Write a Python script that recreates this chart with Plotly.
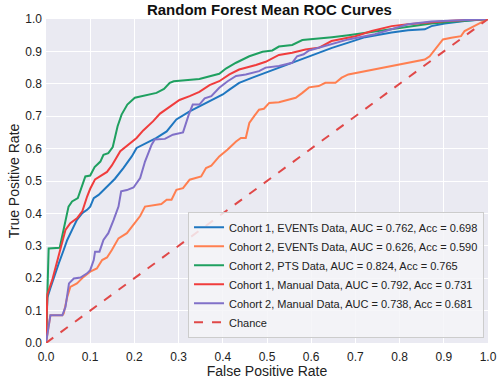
import plotly.graph_objects as go

# ---- data ----
c1_events_fpr = [0, 0.003, 0.01, 0.018, 0.029, 0.04, 0.048, 0.059, 0.07, 0.082, 0.093, 0.1, 0.108, 0.119, 0.134, 0.156, 0.175, 0.194, 0.205, 0.228, 0.25, 0.273, 0.295, 0.325, 0.362, 0.4, 0.415, 0.437, 0.467, 0.497, 0.527, 0.565, 0.61, 0.647, 0.684, 0.722, 0.782, 0.819, 0.857, 0.872, 0.902, 0.947, 1.0]
c1_events_tpr = [0, 0.14, 0.17, 0.204, 0.246, 0.287, 0.318, 0.349, 0.380, 0.401, 0.411, 0.421, 0.447, 0.457, 0.478, 0.507, 0.54, 0.576, 0.602, 0.617, 0.633, 0.653, 0.69, 0.715, 0.741, 0.767, 0.782, 0.803, 0.819, 0.834, 0.851, 0.87, 0.891, 0.911, 0.927, 0.944, 0.958, 0.965, 0.968, 0.978, 0.986, 0.994, 1.0]

c2_events_fpr = [0, 0.01, 0.037, 0.04, 0.048, 0.055, 0.07, 0.085, 0.1, 0.115, 0.127, 0.138, 0.149, 0.164, 0.183, 0.201, 0.213, 0.224, 0.242, 0.261, 0.273, 0.284, 0.295, 0.31, 0.325, 0.351, 0.362, 0.374, 0.392, 0.411, 0.43, 0.441, 0.452, 0.46, 0.471, 0.482, 0.493, 0.505, 0.527, 0.55, 0.565, 0.58, 0.595, 0.617, 0.632, 0.655, 0.669, 0.684, 0.722, 0.752, 0.789, 0.812, 0.831, 0.857, 0.868, 0.883, 0.898, 0.917, 0.939, 0.947, 0.962, 0.977, 0.992, 1.0]
c2_events_tpr = [0, 0.086, 0.086, 0.091, 0.142, 0.173, 0.184, 0.204, 0.220, 0.230, 0.256, 0.264, 0.287, 0.323, 0.339, 0.370, 0.392, 0.421, 0.426, 0.429, 0.442, 0.442, 0.473, 0.478, 0.504, 0.514, 0.54, 0.547, 0.576, 0.597, 0.622, 0.633, 0.633, 0.679, 0.70, 0.720, 0.723, 0.741, 0.743, 0.751, 0.757, 0.772, 0.789, 0.793, 0.803, 0.803, 0.819, 0.829, 0.839, 0.847, 0.858, 0.865, 0.87, 0.875, 0.885, 0.911, 0.937, 0.942, 0.947, 0.963, 0.974, 0.984, 0.994, 1.0]

c2_pts_fpr = [0, 0.003, 0.006, 0.031, 0.051, 0.059, 0.072, 0.089, 0.1, 0.11, 0.123, 0.13, 0.141, 0.151, 0.162, 0.171, 0.184, 0.201, 0.228, 0.25, 0.267, 0.28, 0.289, 0.31, 0.347, 0.392, 0.407, 0.43, 0.46, 0.49, 0.512, 0.527, 0.557, 0.58, 0.617, 0.647, 0.684, 0.759, 0.819, 0.872, 0.924, 1.0]
c2_pts_tpr = [0, 0.13, 0.292, 0.294, 0.421, 0.437, 0.447, 0.514, 0.517, 0.543, 0.56, 0.581, 0.586, 0.605, 0.669, 0.705, 0.736, 0.757, 0.764, 0.772, 0.784, 0.803, 0.808, 0.810, 0.815, 0.831, 0.847, 0.865, 0.885, 0.899, 0.903, 0.915, 0.92, 0.935, 0.939, 0.944, 0.950, 0.965, 0.975, 0.986, 0.992, 1.0]

c1_manual_fpr = [0, 0.003, 0.014, 0.025, 0.034, 0.044, 0.055, 0.07, 0.082, 0.089, 0.093, 0.1, 0.111, 0.138, 0.149, 0.168, 0.186, 0.205, 0.22, 0.242, 0.258, 0.276, 0.302, 0.325, 0.347, 0.37, 0.392, 0.415, 0.437, 0.475, 0.497, 0.527, 0.557, 0.587, 0.617, 0.646, 0.7, 0.737, 0.782, 0.819, 0.872, 0.909, 1.0]
c1_manual_tpr = [0, 0.15, 0.194, 0.251, 0.297, 0.349, 0.370, 0.385, 0.406, 0.437, 0.452, 0.476, 0.505, 0.528, 0.548, 0.592, 0.612, 0.633, 0.656, 0.684, 0.708, 0.726, 0.75, 0.762, 0.775, 0.796, 0.808, 0.829, 0.844, 0.858, 0.868, 0.889, 0.896, 0.906, 0.911, 0.932, 0.947, 0.963, 0.978, 0.984, 0.989, 0.994, 1.0]

c2_manual_fpr = [0, 0.01, 0.037, 0.044, 0.052, 0.063, 0.078, 0.093, 0.1, 0.108, 0.111, 0.121, 0.13, 0.141, 0.153, 0.164, 0.17, 0.183, 0.198, 0.213, 0.224, 0.239, 0.246, 0.269, 0.287, 0.31, 0.323, 0.332, 0.347, 0.359, 0.374, 0.392, 0.411, 0.43, 0.452, 0.482, 0.497, 0.527, 0.557, 0.568, 0.583, 0.595, 0.617, 0.684, 0.744, 0.819, 0.872, 1.0]
c2_manual_tpr = [0, 0.086, 0.086, 0.111, 0.184, 0.199, 0.202, 0.215, 0.225, 0.256, 0.282, 0.282, 0.318, 0.339, 0.380, 0.421, 0.468, 0.472, 0.48, 0.509, 0.560, 0.612, 0.628, 0.630, 0.643, 0.65, 0.705, 0.736, 0.736, 0.755, 0.762, 0.788, 0.808, 0.824, 0.829, 0.839, 0.85, 0.855, 0.865, 0.885, 0.891, 0.903, 0.911, 0.937, 0.953, 0.984, 0.992, 1.0]

chance_x = [0, 1]
chance_y = [0, 1]

labels = [
    "Cohort 1, EVENTs Data, AUC = 0.762, Acc = 0.698",
    "Cohort 2, EVENTs Data, AUC = 0.626, Acc = 0.590",
    "Cohort 2, PTS Data, AUC = 0.824, Acc = 0.765",
    "Cohort 1, Manual Data, AUC = 0.792, Acc = 0.731",
    "Cohort 2, Manual Data, AUC = 0.738, Acc = 0.681",
    "Chance",
]
tick_vals = [0.0, 0.1, 0.2, 0.3, 0.4, 0.5, 0.6, 0.7, 0.8, 0.9, 1.0]
tick_text = ["0.0", "0.1", "0.2", "0.3", "0.4", "0.5", "0.6", "0.7", "0.8", "0.9", "1.0"]

colors = ["#1f77c0", "#ff7f50", "#1fa060", "#f03c3c", "#8070c8"]
series = [
    (c1_events_fpr, c1_events_tpr),
    (c2_events_fpr, c2_events_tpr),
    (c2_pts_fpr, c2_pts_tpr),
    (c1_manual_fpr, c1_manual_tpr),
    (c2_manual_fpr, c2_manual_tpr),
]

fig = go.Figure()
for (fx, ty), name, col in zip(series, labels[:5], colors):
    fig.add_trace(go.Scatter(x=fx, y=ty, mode="lines", name=name,
                             line=dict(color=col, width=2)))
fig.add_trace(go.Scatter(x=chance_x, y=chance_y, mode="lines", name=labels[5],
                         line=dict(color="#e04848", width=2, dash="dash")))

font_family = "Liberation Sans, Arial, sans-serif"
fig.update_layout(
    width=498, height=379,
    margin=dict(l=46, r=10, t=19, b=36),
    paper_bgcolor="white",
    plot_bgcolor="#eaeaf2",
    font=dict(family=font_family, size=12, color="#222222"),
    title=dict(text="<b>Random Forest Mean ROC Curves</b>", x=0.541, xanchor="center",
               y=0.975, yanchor="middle", font=dict(size=15, color="#111111")),
    legend=dict(x=0.991, xanchor="right", y=0.016, yanchor="bottom",
                bgcolor="rgba(244,244,248,0.85)", bordercolor="#cccccc", borderwidth=1,
                font=dict(size=11, color="#222222"), tracegroupgap=0,
                itemwidth=30),
    showlegend=True,
)
fig.update_xaxes(range=[0, 1], tickvals=tick_vals, ticktext=tick_text,
                 showgrid=True, gridcolor="white", gridwidth=1, zeroline=False,
                 showline=False, ticks="", ticklabelstandoff=5, automargin=False,
                 tickfont=dict(size=12),
                 title=dict(text="False Positive Rate", font=dict(size=14), standoff=2))
fig.update_yaxes(range=[0, 1], tickvals=tick_vals, ticktext=tick_text,
                 showgrid=True, gridcolor="white", gridwidth=1, zeroline=False,
                 showline=False, ticks="", ticklabelstandoff=3, automargin=False,
                 tickfont=dict(size=12),
                 title=dict(text="True Positive Rate", font=dict(size=14), standoff=2))

fig.write_html("out.html", config={"displayModeBar": False},
               post_script="document.body.style.margin='0px';document.body.style.padding='0px';")
